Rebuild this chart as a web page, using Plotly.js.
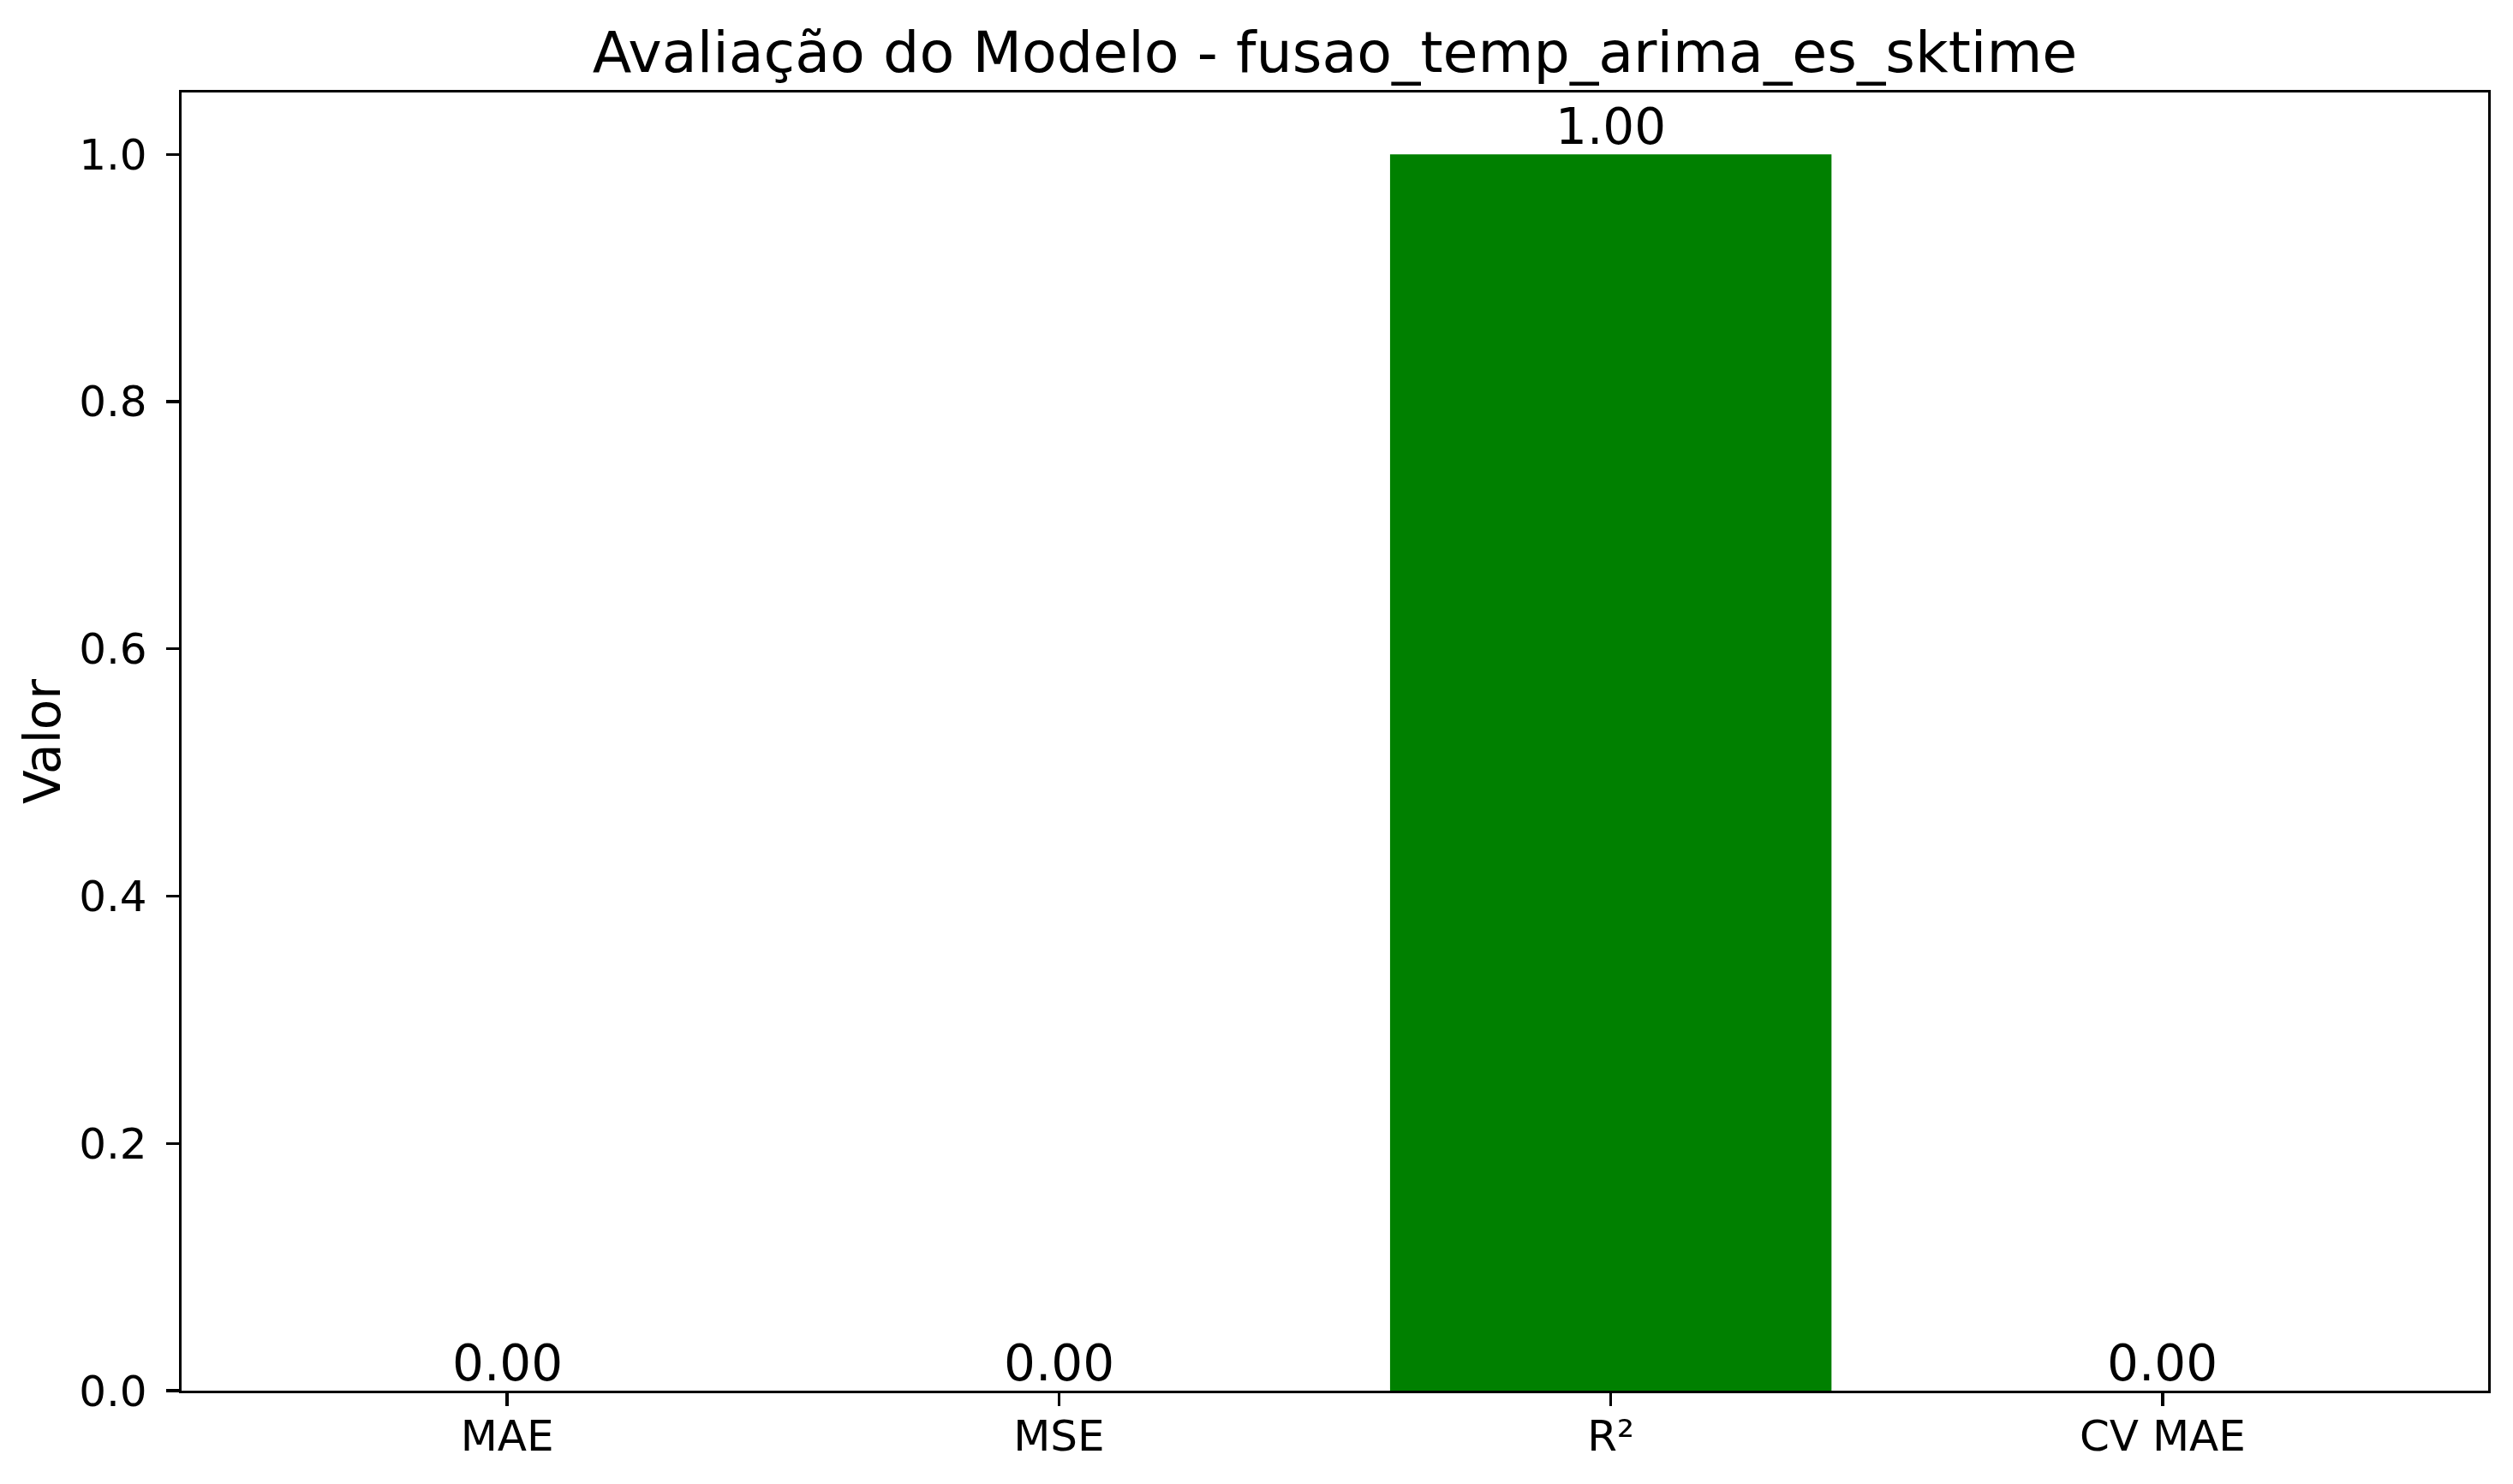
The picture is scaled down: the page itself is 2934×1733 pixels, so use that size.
<!DOCTYPE html>
<html>
<head>
<meta charset="utf-8">
<script src="https://cdn.plot.ly/plotly-3.0.1.min.js"></script>
<style>html,body{margin:0;padding:0;background:#fff;}#chart{width:2934px;height:1733px;}</style>
</head>
<body>
<div id="chart"></div>
<script>
const categories = ["MAE", "MSE", "R²", "CV MAE"];
const values = [0.00, 0.00, 1.00, 0.00];
const barColor = "#008000";
const yTicks = [0.0, 0.2, 0.4, 0.6, 0.8, 1.0];
const yTickLabels = ["0.0", "0.2", "0.4", "0.6", "0.8", "1.0"];
const titleText = "Avaliação do Modelo - fusao_temp_arima_es_sktime";
const yLabel = "Valor";

const font = "DejaVu Sans, sans-serif";
const xIdx = categories.map((_, i) => i);

const trace = {
  type: "bar",
  x: xIdx,
  y: values,
  width: 0.8,
  marker: {color: barColor, line: {width: 0}},
  hoverinfo: "skip"
};

const annotations = values.map((v, i) => ({
  x: i, y: v, xref: "x", yref: "y",
  text: v.toFixed(2),
  showarrow: false,
  yanchor: "bottom",
  xanchor: "center",
  yshift: -4,
  font: {family: font, size: 58, color: "#000"}
}));

const axisCommon = {
  showline: true, linecolor: "#000", linewidth: 3.3, mirror: true,
  ticks: "outside", ticklen: 15, tickwidth: 3.3, tickcolor: "#000",
  showgrid: false, zeroline: false,
  tickfont: {family: font, size: 50, color: "#000"}
};

const layout = {
  width: 2934, height: 1733,
  margin: {l: 212, r: 29, t: 108, b: 109, pad: 0},
  paper_bgcolor: "#fff", plot_bgcolor: "#fff",
  showlegend: false,
  title: {
    text: titleText,
    font: {family: font, size: 66.7, color: "#000"},
    xref: "paper", x: 0.5, xanchor: "center",
    yref: "paper", y: 1, yanchor: "bottom",
    pad: {b: 24}
  },
  xaxis: Object.assign({}, axisCommon, {
    range: [-0.59, 3.59],
    tickmode: "array", tickvals: xIdx, ticktext: categories,
    ticklabelstandoff: -8
  }),
  yaxis: Object.assign({}, axisCommon, {
    range: [0, 1.05],
    tickmode: "array", tickvals: yTicks, ticktext: yTickLabels,
    ticklabelstandoff: 12,
    title: {text: yLabel, font: {family: font, size: 58, color: "#000"}, standoff: 4}
  }),
  annotations: annotations
};

Plotly.newPlot("chart", [trace], layout, {displayModeBar: false, staticPlot: true});
</script>
</body>
</html>
